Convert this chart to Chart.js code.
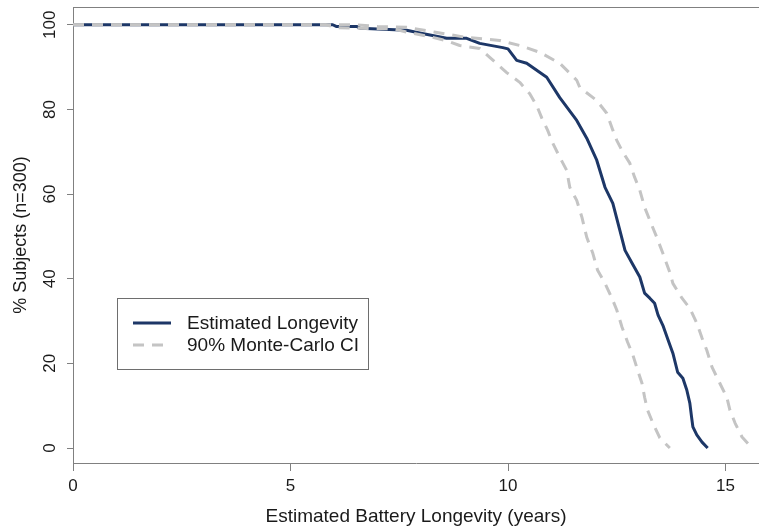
<!DOCTYPE html>
<html>
<head>
<meta charset="utf-8">
<script src="https://cdn.jsdelivr.net/npm/chart.js@4"></script>
<style>
  html, body { margin: 0; padding: 0; background: #fff; }
  #wrap { width: 759px; height: 529px; }
</style>
</head>
<body>
<div id="wrap"><canvas id="kmChart" width="759" height="529"></canvas></div>
<script>
// Estimated longevity curve (years vs % of subjects still running)
const estYears = [0, 5.97, 6.05, 6.52, 6.6, 7.67, 8.0, 8.59, 9.05, 9.35, 9.88, 10.0, 10.2, 10.43, 10.89, 11.19,
  11.58, 11.81, 12.04, 12.23, 12.41, 12.57, 12.69, 12.85, 13.03, 13.14, 13.26, 13.37, 13.45, 13.56, 13.68,
  13.79, 13.9, 14.02, 14.11, 14.18, 14.22, 14.25, 14.34, 14.46, 14.59];
const estPct = [100, 100, 99.6, 99.6, 99.2, 98.7, 98.0, 96.8, 96.8, 95.6, 94.6, 94.3, 91.6, 90.9, 87.6, 82.8,
  77.4, 73.2, 68, 61.6, 57.8, 51.5, 46.7, 43.7, 40.4, 36.6, 35.4, 34.2, 31.4, 29, 25.5,
  22.4, 17.9, 16.5, 13.7, 10.6, 7.3, 5, 3.1, 1.4, 0];

// Lower bound of the 90% Monte-Carlo interval
const lowYears = [0, 5.8, 6.1, 7.4, 7.7, 8.2, 8.6, 8.89, 9.35, 9.58, 9.97, 10.27, 10.5, 10.66, 10.78, 10.91,
  11.03, 11.19, 11.35, 11.42, 11.58, 11.7, 11.81, 11.95, 12.06, 12.23, 12.39, 12.5, 12.62, 12.75, 12.87,
  12.98, 13.08, 13.14, 13.21, 13.33, 13.49, 13.72];
const lowPct = [100, 100, 99.3, 99, 98.2, 97.2, 96.2, 95.1, 94.4, 92.3, 88.7, 86.4, 83.7, 80.9, 77.9, 75.1,
  72, 68.7, 65.6, 61.6, 58.5, 54.5, 49.8, 46, 42, 38.9, 35.4, 32.6, 28.6, 25, 22,
  18.4, 15.3, 12, 8.9, 5.9, 2.4, 0];

// Upper bound of the 90% Monte-Carlo interval
const upYears = [0, 6.5, 7.0, 7.67, 8.3, 9.05, 9.81, 10.27, 10.73, 11.19, 11.58, 11.65, 12.04, 12.27, 12.41,
  12.5, 12.64, 12.8, 12.91, 13.03, 13.14, 13.26, 13.42, 13.56, 13.72, 13.79, 14.0, 14.18, 14.34, 14.46,
  14.57, 14.69, 14.87, 15.03, 15.1, 15.22, 15.38, 15.61];
const upPct = [100, 100, 99.6, 99.4, 98.3, 97, 96.3, 95.1, 93.5, 90.9, 86.9, 85.2, 82.1, 79.1, 75.1,
  72.7, 69.9, 67.3, 64, 60.9, 56.9, 53.8, 49.8, 46, 41.5, 38.9, 35.4, 33, 29.5, 26,
  23.1, 19.1, 15.3, 12, 9, 5.9, 2.6, 0];

// Axis ticks
const xTicks = [0, 5, 10, 15];
const yTicks = [0, 20, 40, 60, 80, 100];

const toPoints = (xs, ys) => xs.map((x, i) => ({ x: x, y: ys[i] }));

const NAVY = '#1d3767';
const GREY = '#c4c4c4';
const AXIS = '#808080';
const TEXT = '#1a1a1a';
const FONT = '"Liberation Sans", Arial, sans-serif';

// Boxed legend drawn inside the plot area, plus the top frame line
const boxLegend = {
  id: 'boxLegend',
  beforeDatasetsDraw(chart) {
    const { ctx, chartArea } = chart;
    ctx.save();
    ctx.strokeStyle = AXIS;
    ctx.lineWidth = 1;
    ctx.beginPath();
    ctx.moveTo(chartArea.left, Math.round(chartArea.top) + 0.5);
    ctx.lineTo(chartArea.right, Math.round(chartArea.top) + 0.5);
    ctx.stroke();
    ctx.restore();
  },
  afterDatasetsDraw(chart, args, opts) {
    const { ctx, chartArea } = chart;
    const x0 = Math.round(chartArea.left + opts.offsetX);
    const y0 = Math.round(chartArea.top + opts.offsetY);
    ctx.save();
    ctx.fillStyle = '#fff';
    ctx.fillRect(x0, y0, opts.width, opts.height);
    ctx.strokeStyle = '#6e6e6e';
    ctx.lineWidth = 1;
    ctx.strokeRect(x0 + 0.5, y0 + 0.5, opts.width, opts.height);
    const items = chart.data.datasets.filter(d => !d.noLegend);
    ctx.font = opts.font;
    ctx.textBaseline = 'middle';
    ctx.textAlign = 'left';
    items.forEach((d, i) => {
      const y = y0 + opts.firstRow + i * opts.rowGap;
      ctx.strokeStyle = d.borderColor;
      ctx.lineWidth = d.borderWidth;
      ctx.setLineDash(d.borderDash || []);
      ctx.beginPath();
      ctx.moveTo(x0 + opts.lineStart, y);
      ctx.lineTo(x0 + opts.lineEnd, y);
      ctx.stroke();
      ctx.setLineDash([]);
      ctx.fillStyle = TEXT;
      ctx.fillText(d.label, x0 + opts.textX, y + 1);
    });
    ctx.restore();
  }
};

function renderChart() {
  const ctx = document.getElementById('kmChart');
  new Chart(ctx, {
    type: 'line',
    data: {
      datasets: [
        {
          label: 'Estimated Longevity',
          data: toPoints(estYears, estPct),
          borderColor: NAVY,
          borderWidth: 3,
          order: 2
        },
        {
          label: '90% Monte-Carlo CI',
          data: toPoints(lowYears, lowPct),
          borderColor: GREY,
          borderWidth: 3,
          borderDash: [11, 8],
          order: 1
        },
        {
          label: '90% Monte-Carlo CI',
          data: toPoints(upYears, upPct),
          borderColor: GREY,
          borderWidth: 3,
          borderDash: [11, 8],
          order: 1,
          noLegend: true
        }
      ]
    },
    options: {
      responsive: false,
      devicePixelRatio: 1,
      animation: false,
      layout: { padding: { top: 7, right: 0, bottom: 0, left: 0 } },
      elements: {
        point: { radius: 0 },
        line: { tension: 0, borderJoinStyle: 'round', borderCapStyle: 'butt' }
      },
      plugins: {
        legend: { display: false },
        tooltip: { enabled: false },
        boxLegend: {
          offsetX: 44, offsetY: 291, width: 251, height: 71,
          firstRow: 25, rowGap: 22, lineStart: 16, lineEnd: 54, textX: 70,
          font: '19px ' + FONT
        }
      },
      scales: {
        x: {
          type: 'linear',
          min: 0,
          max: 15.77,
          afterFit: s => { s.height = 66; s.paddingLeft = 0; s.paddingRight = 0; },
          afterBuildTicks: s => { s.ticks = xTicks.map(v => ({ value: v })); },
          grid: { drawOnChartArea: false, color: AXIS, tickLength: 8, tickColor: AXIS },
          border: { color: AXIS, width: 1 },
          ticks: { color: TEXT, font: { family: FONT, size: 17 }, padding: 5, maxRotation: 0, autoSkip: false },
          title: {
            display: true,
            text: 'Estimated Battery Longevity (years)',
            color: TEXT,
            font: { family: FONT, size: 19 },
            padding: { top: 0, bottom: 1 }
          }
        },
        y: {
          type: 'linear',
          min: -3.54,
          max: 104.2,
          afterFit: s => { s.width = 73; s.paddingTop = 0; s.paddingBottom = 0; },
          afterBuildTicks: s => { s.ticks = yTicks.map(v => ({ value: v })); },
          grid: { drawOnChartArea: false, color: AXIS, tickLength: 6, tickColor: AXIS },
          border: { color: AXIS, width: 1 },
          ticks: {
            color: TEXT,
            font: { family: FONT, size: 17 },
            minRotation: 90,
            maxRotation: 90,
            crossAlign: 'center',
            padding: 3,
            autoSkip: false
          },
          title: {
            display: true,
            text: '% Subjects (n=300)',
            color: TEXT,
            font: { family: FONT, size: 18 },
            padding: { top: 10, bottom: 0 }
          }
        }
      }
    },
    plugins: [boxLegend]
  });
}

document.addEventListener('DOMContentLoaded', renderChart);
</script>
</body>
</html>
